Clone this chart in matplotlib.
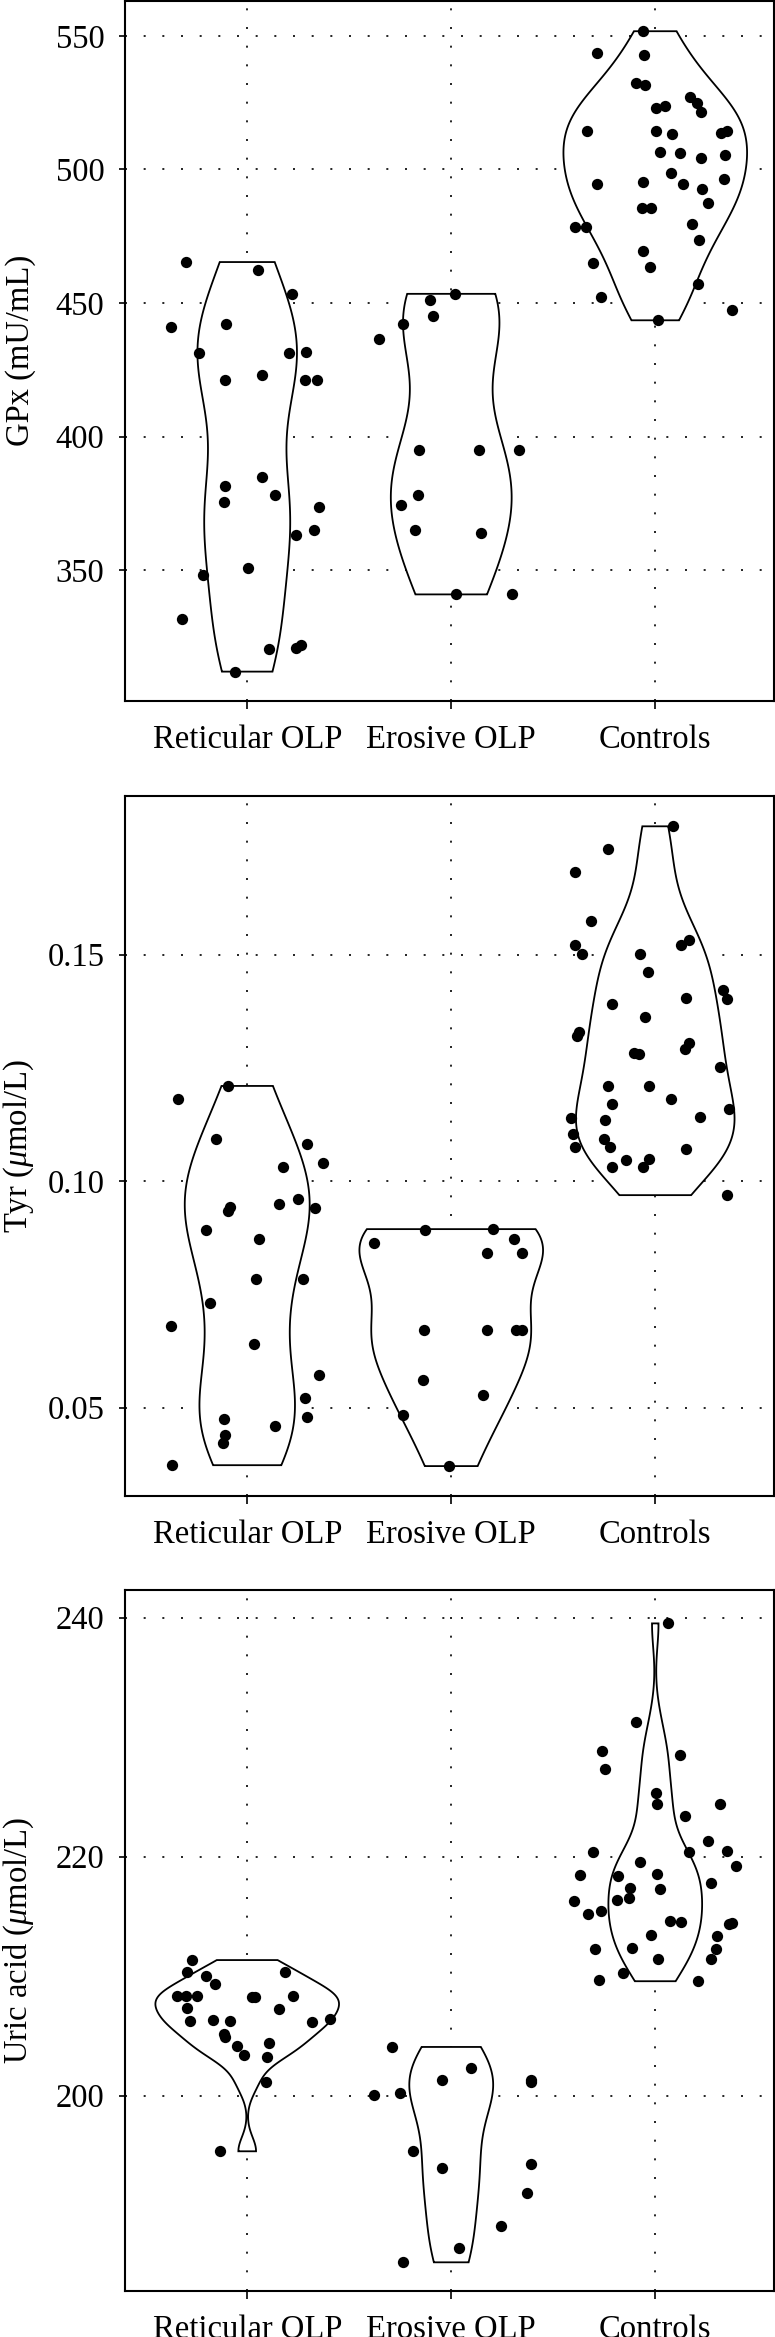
import numpy as np
import matplotlib
matplotlib.use("Agg")
import matplotlib.pyplot as plt

# ---------------- data ----------------
categories = ["Reticular OLP", "Erosive OLP", "Controls"]

# Panel 1: GPx (mU/mL)
gpx_ret = [465.3, 440.9, 462.2, 453.3, 442.1, 431.2, 431.4, 431.8, 421.3, 423.0,
           421.3, 421.3, 384.9, 381.3, 375.3, 378.2, 373.8, 365.0, 363.1, 350.9,
           348.3, 331.6, 320.6, 320.9, 321.8, 312.0]
gpx_ret_jit = [-0.301, -0.373, 0.053, 0.218, -0.104, -0.238, 0.204, 0.288, -0.109, 0.073,
               0.281, 0.344, 0.073, -0.109, -0.114, 0.138, 0.354, 0.325, 0.240, 0.005,
               -0.218, -0.322, 0.107, 0.238, 0.264, -0.061]
gpx_ero = [436.6, 442.1, 451.0, 445.0, 453.4, 394.8, 395.1, 395.1, 378.2, 374.4,
           365.0, 363.8, 340.9, 341.0]
gpx_ero_jit = [-0.352, -0.238, -0.104, -0.087, 0.019, -0.158, 0.138, 0.330, -0.162, -0.245,
               -0.177, 0.145, 0.022, 0.296]
gpx_ctl = [551.7, 543.6, 542.8, 532.4, 531.6, 526.9, 525.0, 521.6, 522.8, 523.7,
           514.2, 514.2, 513.3, 513.5, 514.4, 506.6, 506.3, 505.4, 504.4, 498.5,
           496.5, 495.4, 494.4, 494.6, 492.5, 487.3, 485.5, 485.5, 478.6, 478.6,
           479.6, 473.4, 469.6, 465.1, 463.4, 457.2, 452.2, 447.4, 443.5]
gpx_ctl_jit = [-0.061, -0.286, -0.056, -0.092, -0.051, 0.170, 0.204, 0.224, 0.005, 0.048,
               -0.335, 0.005, 0.080, 0.320, 0.354, 0.024, 0.121, 0.342, 0.223, 0.078,
               0.337, -0.061, -0.284, 0.138, 0.230, 0.257, -0.066, -0.022, -0.393, -0.339,
               0.179, 0.216, -0.061, -0.303, -0.024, 0.211, -0.267, 0.376, 0.015]

# Panel 2: Tyr (umol/L)
tyr_ret = [0.1210, 0.1181, 0.1093, 0.1082, 0.1040, 0.1030, 0.0961, 0.0950, 0.0942, 0.0933,
           0.0941, 0.0892, 0.0873, 0.0783, 0.0783, 0.0732, 0.0681, 0.0640, 0.0571, 0.0521,
           0.0480, 0.0474, 0.0460, 0.0439, 0.0421, 0.0373]
tyr_ret_jit = [-0.092, -0.337, -0.155, 0.293, 0.371, 0.177, 0.250, 0.158, -0.085, -0.095,
               0.330, -0.204, 0.058, 0.041, 0.274, -0.182, -0.373, 0.034, 0.352, 0.281,
               0.291, -0.114, 0.138, -0.107, -0.119, -0.371]
tyr_ero = [0.0891, 0.0894, 0.0863, 0.0873, 0.0842, 0.0842, 0.0672, 0.0671, 0.0671, 0.0671,
           0.0560, 0.0528, 0.0483, 0.0371]
tyr_ero_jit = [-0.131, 0.204, -0.380, 0.310, 0.175, 0.347, -0.133, 0.177, 0.318, 0.347,
               -0.140, 0.158, -0.238, -0.010]
tyr_ctl = [0.1783, 0.1732, 0.1683, 0.1574, 0.1521, 0.1502, 0.1502, 0.1521, 0.1532, 0.1461,
           0.1422, 0.1403, 0.1401, 0.1390, 0.1363, 0.1329, 0.1321, 0.1304, 0.1292, 0.1282,
           0.1281, 0.1251, 0.1210, 0.1210, 0.1182, 0.1171, 0.1160, 0.1140, 0.1135, 0.1141,
           0.1103, 0.1093, 0.1075, 0.1075, 0.1070, 0.1047, 0.1049, 0.1031, 0.1031, 0.0969]
tyr_ctl_jit = [0.087, -0.230, -0.393, -0.315, -0.393, -0.361, -0.077, 0.126, 0.165, -0.034,
               0.330, 0.150, 0.352, -0.213, -0.048, -0.376, -0.383, 0.165, 0.145, -0.102,
               -0.082, 0.315, -0.233, -0.029, 0.078, -0.213, 0.361, -0.412, -0.245, 0.220,
               -0.405, -0.250, -0.395, -0.223, 0.150, -0.143, -0.029, -0.213, -0.061, 0.350]

# Panel 3: Uric acid (umol/L)
ua_ret = [211.35, 210.38, 210.02, 209.37, 210.38, 208.36, 208.36, 208.36, 208.28, 208.28,
          208.36, 207.35, 207.23, 206.26, 206.34, 206.26, 206.14, 206.42, 205.13, 204.93,
          204.12, 204.40, 203.39, 203.27, 201.13, 195.35]
ua_ret_jit = [-0.272, -0.293, -0.204, -0.158, 0.187, -0.346, -0.298, -0.247, 0.024, 0.039,
              0.223, -0.293, 0.158, -0.279, -0.170, -0.082, 0.318, 0.405, -0.114, -0.107,
              -0.048, 0.107, -0.017, 0.097, 0.090, -0.133]
ua_ero = [204.08, 202.30, 201.29, 201.33, 201.17, 200.08, 200.24, 195.35, 194.26, 193.94,
          191.84, 189.13, 187.27, 186.06]
ua_ero_jit = [-0.289, 0.099, -0.046, 0.393, 0.391, -0.379, -0.250, -0.187, 0.393, -0.046,
              0.373, 0.243, 0.036, -0.238]
ua_ctl = [239.52, 231.31, 228.85, 228.53, 227.35, 225.33, 224.44, 224.44, 223.43, 221.33,
          220.36, 220.36, 220.44, 219.19, 219.56, 218.46, 218.38, 218.54, 217.78, 217.37,
          217.29, 216.32, 216.36, 216.53, 215.19, 215.47, 214.59, 214.51, 214.38, 214.42,
          213.41, 213.37, 212.28, 212.36, 212.24, 211.47, 211.43, 210.30, 209.66, 209.58]
ua_ctl_jit = [0.063, -0.092, -0.259, 0.120, -0.245, 0.005, 0.007, 0.317, 0.148, 0.259,
              -0.303, 0.165, 0.351, 0.397, -0.077, -0.368, -0.182, 0.010, 0.274, -0.126,
              0.024, -0.398, -0.187, -0.131, -0.332, -0.267, 0.073, 0.126, 0.361, 0.376,
              -0.022, 0.305, -0.293, -0.114, 0.300, 0.012, 0.274, -0.160, -0.278, 0.211]

ylabels = ["GPx (mU/mL)", r"Tyr ($\mu$mol/L)", r"Uric acid ($\mu$mol/L)"]
yticks_list = [[350, 400, 450, 500, 550], [0.05, 0.10, 0.15], [200, 220, 240]]
yticklabels_list = [["350", "400", "450", "500", "550"], ["0.05", "0.10", "0.15"],
                    ["200", "220", "240"]]
ylims = [(301.0, 563.2), (0.0305, 0.1851), (183.66, 242.34)]

panels = [
    ([gpx_ret, gpx_ero, gpx_ctl], [gpx_ret_jit, gpx_ero_jit, gpx_ctl_jit]),
    ([tyr_ret, tyr_ero, tyr_ctl], [tyr_ret_jit, tyr_ero_jit, tyr_ctl_jit]),
    ([ua_ret, ua_ero, ua_ctl], [ua_ret_jit, ua_ero_jit, ua_ctl_jit]),
]

# ---------------- style ----------------
plt.rcParams["font.family"] = ["Liberation Serif", "DejaVu Serif"]
plt.rcParams["mathtext.fontset"] = "custom"
plt.rcParams["mathtext.rm"] = "Liberation Serif"
plt.rcParams["mathtext.it"] = "Liberation Serif:italic"
FS = 23.5


def kde_violin(vals):
    v = np.asarray(vals, float)
    n = len(v)
    sd = v.std(ddof=1)
    q75, q25 = np.percentile(v, [75, 25])
    lo = min(sd, (q75 - q25) / 1.34)
    if lo <= 0:
        lo = sd
    bw = 0.9 * lo * n ** (-0.2)
    grid = np.linspace(v.min(), v.max(), 512)
    dens = np.exp(-0.5 * ((grid[:, None] - v[None, :]) / bw) ** 2).sum(axis=1)
    dens /= (n * bw * np.sqrt(2 * np.pi))
    return grid, dens


W, H = 775, 2337
fig = plt.figure(figsize=(W / 100, H / 100), dpi=100)
boxes = [(0.5, 701.0), (795.5, 1496.0), (1589.7, 2291.0)]  # top, bottom in px

for i, ((groups, jits), (top, bot)) in enumerate(zip(panels, boxes)):
    ax = fig.add_axes([125 / W, 1 - bot / H, 649 / W, (bot - top) / H])
    xs = np.arange(len(categories))
    dens_all = [kde_violin(g) for g in groups]
    dmax = max(d.max() for _, d in dens_all)
    for k, (grid, d) in enumerate(dens_all):
        hw = 0.45 * d / dmax
        px = np.concatenate([xs[k] - hw, (xs[k] + hw)[::-1]])
        py = np.concatenate([grid, grid[::-1]])
        ax.fill(px, py, facecolor="white", edgecolor="black", lw=1.3, zorder=2,
                joinstyle="miter")
    for k, (g, j) in enumerate(zip(groups, jits)):
        ax.scatter(xs[k] + np.asarray(j), g, s=66, color="black", zorder=3,
                   linewidths=0)
    ax.set_xlim(-0.599, 2.582)
    ax.set_ylim(*ylims[i])
    ax.set_xticks(xs)
    ax.set_xticklabels(categories, fontsize=FS)
    ax.set_yticks(yticks_list[i])
    ax.set_yticklabels(yticklabels_list[i], fontsize=FS)
    ax.grid(True, color="black", lw=1.2, linestyle=(0, (1.2, 10.0)))
    ax.set_axisbelow(True)
    for s in ax.spines.values():
        s.set_linewidth(1.5)
    ax.tick_params(axis="x", length=5.8, width=1.2, pad=11)
    ax.tick_params(axis="y", length=4.3, width=1.2, pad=10.5)
    ax.set_ylabel(ylabels[i], fontsize=FS)
    ax.yaxis.set_label_coords(-0.137, 0.5)

fig.savefig("out.png", dpi=100)
